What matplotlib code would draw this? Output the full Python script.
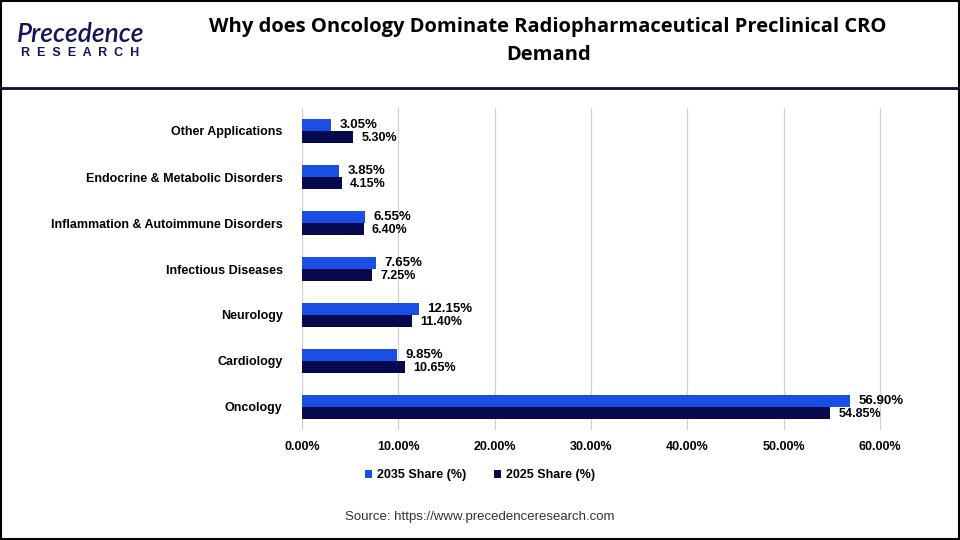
import matplotlib.pyplot as plt
import numpy as np

categories = ['Oncology', 'Cardiology', 'Neurology', 'Infectious Diseases',
              'Inflammation & Autoimmune Disorders', 'Endocrine & Metabolic Disorders',
              'Other Applications']
share_2035 = [56.90, 9.85, 12.15, 7.65, 6.55, 3.85, 3.05]
share_2025 = [54.85, 10.65, 11.40, 7.25, 6.40, 4.15, 5.30]
xticks = [0, 10, 20, 30, 40, 50, 60]

plt.rcParams['font.family'] = ['Liberation Sans', 'DejaVu Sans']

fig = plt.figure(figsize=(9.6, 5.4), dpi=100)

# frame and header
fig.add_artist(plt.Rectangle((0.001, 0.001), 0.998, 0.997, transform=fig.transFigure,
                             fill=False, edgecolor='black', lw=1.5))
fig.add_artist(plt.Line2D([0, 1], [1 - 88/540, 1 - 88/540], transform=fig.transFigure,
                          color='#0b0b45', lw=2))
fig.text(0.571, 1 - 27/540, 'Why does Oncology Dominate Radiopharmaceutical Preclinical CRO',
         ha='center', va='center', fontsize=14.5, fontweight='bold', family='Open Sans')
fig.text(0.571, 1 - 55/540, 'Demand', ha='center', va='center', fontsize=14.5,
         fontweight='bold', family='Open Sans')
# logo
fig.text(0.018, 1 - 35/540, 'Precedence', ha='left', va='center', fontsize=19,
         color='#14145a', family='Lato', fontweight='semibold', style='italic')
fig.text(0.022, 1 - 53/540, 'R  E  S  E  A  R  C  H', ha='left', va='center', fontsize=9,
         color='#14145a', fontweight='bold')

xmax = 60.3
ax = fig.add_axes([302/960, 1 - 430/540, (880 - 302)/960 * xmax / 60, (430 - 108)/540])
y = np.arange(len(categories))
h = 0.27
ax.barh(y + h/2, share_2035, height=h, color='#1a4fe6', label='2035 Share (%)')
ax.barh(y - h/2, share_2025, height=h, color='#08084f', label='2025 Share (%)')

for i in range(len(categories)):
    ax.text(share_2035[i] + 0.85, y[i] + h/2, '%.2f%%' % share_2035[i],
            va='center', ha='left', fontsize=9.5, fontweight='bold')
    ax.text(share_2025[i] + 0.85, y[i] - h/2 - 0.02, '%.2f%%' % share_2025[i],
            va='center', ha='left', fontsize=9, fontweight='bold')

ax.set_ylim(-0.5, len(categories) - 0.5)
ax.set_xlim(0, xmax)
ax.set_xticks(xticks)
ax.set_xticklabels(['%.2f%%' % t for t in xticks], fontsize=9, fontweight='bold')
ax.set_yticks(y)
ax.set_yticklabels(categories, fontsize=9, fontweight='bold')
ax.tick_params(axis='both', length=0)
ax.tick_params(axis='x', pad=8)
ax.tick_params(axis='y', pad=14)
ax.grid(axis='x', color='#d0d0d0', lw=0.9)
ax.set_axisbelow(True)
for s in ax.spines.values():
    s.set_visible(False)

handles, labels = ax.get_legend_handles_labels()
fig.legend(handles, labels, loc='center', bbox_to_anchor=(0.5, 1 - 475/540), ncol=2,
           frameon=False, prop={'size': 9, 'weight': 'bold'}, handlelength=0.6,
           handleheight=0.6, columnspacing=2.2, handletextpad=0.4)

fig.text(0.5, 1 - 517/540, 'Source: https://www.precedenceresearch.com', ha='center',
         va='center', fontsize=9.5, color='#333333')

fig.savefig('out.png', dpi=100)
